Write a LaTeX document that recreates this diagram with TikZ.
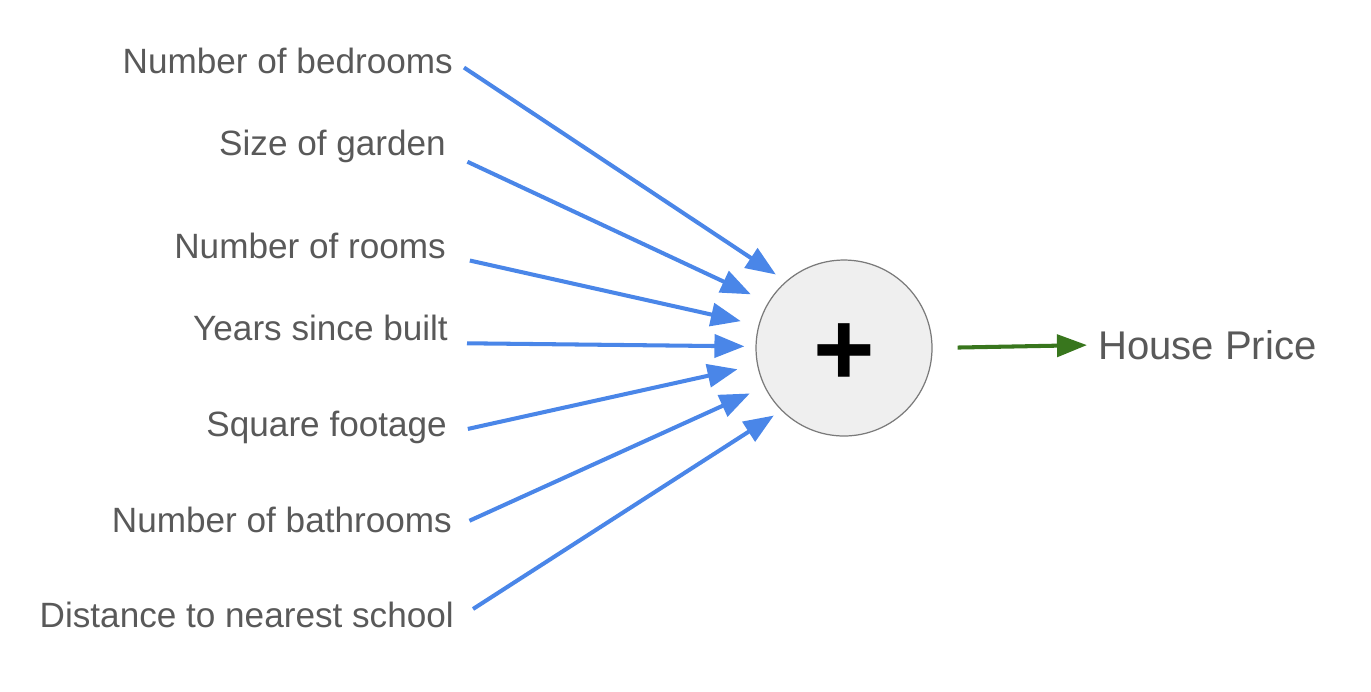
\documentclass[tikz,border=0pt]{standalone}
\usepackage{fontspec}
\setmainfont{Liberation Sans}
\usepackage{xcolor}
\usetikzlibrary{positioning,calc,arrows.meta}

\definecolor{featblue}{HTML}{4A86E8}
\definecolor{outgreen}{HTML}{38761D}
\definecolor{labelgrey}{HTML}{595959}
\definecolor{sumfill}{HTML}{EFEFEF}
\definecolor{sumdraw}{HTML}{7A7A7A}

\begin{document}
\begin{tikzpicture}[x=0.02cm, y=-0.02cm,
		feature/.style={anchor=base east, text=labelgrey, text height=14pt, text depth=4pt, font=\fontsize{20}{24}\selectfont},
		feed/.style={draw=featblue, line width=2.3pt, shorten <=0.12cm, -{Triangle[length=0.6cm, width=0.46cm]}},
		result/.style={draw=outgreen, line width=2.3pt, -{Triangle[length=0.6cm, width=0.44cm]}}]
		\useasboundingbox (0,0) rectangle (1371,691);
		\node[circle, minimum size=3.52cm, inner sep=0pt, fill=sumfill, draw=sumdraw, line width=0.7pt] (sum) at (844,348) {\raisebox{-4pt}[\height][\depth]{\fontsize{60}{60}\selectfont\bfseries +}};
		
		\node[feature] (bedrooms) at (459,73) {Number of bedrooms};
		\node[feature] (garden) at (452,155) {Size of garden};
		\node[feature] (rooms) at (452,258) {Number of rooms};
		\node[feature] (built) at (454,340) {Years since built};
		\node[feature] (footage) at (453,436) {Square footage};
		\node[feature] (bathrooms) at (458,532) {Number of bathrooms};
		\node[feature] (school) at (460,627) {Distance to nearest school};
		
		\node[anchor=west, text=labelgrey, font=\fontsize{22.8}{27}\selectfont] (price) at (1092,345) {House Price};
		
		\draw[feed, shorten >=0.24cm] (bedrooms.east) -- (sum.131);
		\draw[feed, shorten >=0.38cm] ([xshift=0.2cm, yshift=-0.26cm]garden.east) -- (sum.149);
		\draw[feed, shorten >=0.36cm] ([xshift=0.24cm, yshift=-0.2cm]rooms.east) -- (sum.165);
		\draw[feed, shorten >=0.22cm] ([xshift=0.14cm, yshift=-0.24cm]built.east) -- (sum.179);
		\draw[feed, shorten >=0.40cm] ([xshift=0.18cm, yshift=-0.06cm]footage.east) -- (sum.191);
		\draw[feed, shorten >=0.32cm] ([xshift=0.12cm]bathrooms.east) -- (sum.206);
		\draw[feed, shorten >=0.18cm] ([xshift=0.16cm, yshift=0.12cm]school.east) -- (sum.225);
		\draw[result, shorten <=0.5cm, shorten >=0.1cm] (sum.east) -- (price.west);
	\end{tikzpicture}
\end{document}
